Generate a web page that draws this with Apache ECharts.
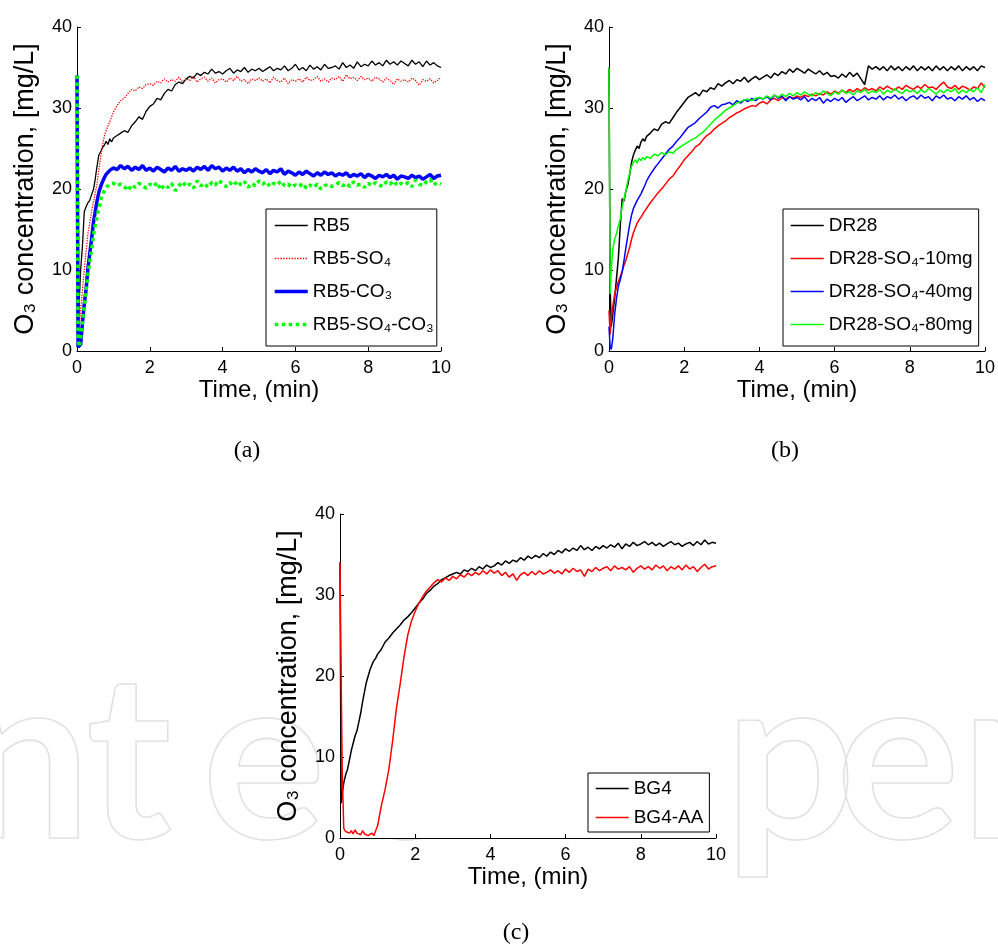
<!DOCTYPE html>
<html><head><meta charset="utf-8">
<script src="https://cdn.jsdelivr.net/npm/echarts@6/dist/echarts.min.js"></script>
<style>html,body{margin:0;padding:0;background:#fff;}#c{width:998px;height:948px;}</style>
</head><body><div id="c"></div>
<script>
// shared time axis (min)
const time = [0,0.03,0.06,0.1,0.15,0.2,0.25,0.3,0.35,0.4,0.45,0.5,0.55,0.6,0.65,0.7,0.75,0.8,0.85,0.9,0.95,1.0,
1.1,1.2,1.3,1.4,1.5,1.6,1.7,1.8,1.9,2.0,
2.1,2.2,2.3,2.4,2.5,2.6,2.7,2.8,2.9,3.0,
3.1,3.2,3.3,3.4,3.5,3.6,3.7,3.8,3.9,4.0,
4.1,4.2,4.3,4.4,4.5,4.6,4.7,4.8,4.9,5.0,
5.1,5.2,5.3,5.4,5.5,5.6,5.7,5.8,5.9,6.0,
6.1,6.2,6.3,6.4,6.5,6.6,6.7,6.8,6.9,7.0,
7.1,7.2,7.3,7.4,7.5,7.6,7.7,7.8,7.9,8.0,
8.1,8.2,8.3,8.4,8.5,8.6,8.7,8.8,8.9,9.0,
9.1,9.2,9.3,9.4,9.5,9.6,9.7,9.8,9.9,10.0];

const xTicks = [0,2,4,6,8,10];
const yTicks = [0,10,20,30,40];
const panelLabels = ['(a)','(b)','(c)'];
const xTitle = 'Time, (min)';
const yTitle = 'O₃ concentration, [mg/L]';

// ---- panel (a)
const namesA = ['RB5','RB5-SO₄','RB5-CO₃','RB5-SO₄-CO₃'];
const rb5 = [34,2,6,10,13,17.2,17.8,18.3,18.6,19.3,19.9,21.2,22.8,24.2,24.6,25.1,25.4,25.9,25.5,26.2,25.8,26.3,
26.6,26.9,27.2,27.0,27.8,28.3,28.9,28.6,29.6,30.2,
30.5,31.2,31.0,31.8,32.3,32.1,32.9,33.2,33.0,33.6,
33.9,33.7,34.3,34.0,34.4,34.2,34.8,34.3,34.5,34.2,
34.6,34.9,34.3,34.7,34.5,35.0,34.4,34.8,34.6,34.9,
34.5,34.8,35.1,34.6,34.9,34.7,35.2,34.6,34.9,35.4,
34.7,35.0,34.6,35.3,34.8,35.1,34.7,35.4,34.9,35.0,
35.2,34.8,35.6,35.0,35.3,34.9,35.7,35.1,35.4,35.2,
35.8,35.3,35.6,35.2,35.9,35.4,35.7,35.3,35.8,35.5,
35.2,35.9,35.4,35.7,35.1,35.8,35.3,35.6,35.2,35.0];
const rb5so4 = [34,1,3,5,7.5,10,12.3,14.5,15.8,17.2,18.3,19.5,20.6,22.4,23.9,25.4,26.5,27.2,27.8,28.3,28.9,29.5,
30.3,30.9,31.2,31.8,32.3,32.1,32.6,32.4,32.9,33.0,
32.8,33.3,33.1,33.6,33.2,33.5,33.3,33.8,33.2,33.6,
33.4,33.9,33.2,33.6,33.8,33.3,33.7,33.1,33.5,33.6,
33.2,33.7,33.4,33.9,33.3,33.5,33.0,33.6,33.4,33.7,
33.3,33.6,33.1,33.8,33.4,33.2,33.7,33.0,33.5,33.3,
33.6,33.2,33.8,33.4,33.5,33.9,33.3,33.6,33.2,33.7,
33.5,33.9,33.3,34.1,33.6,33.8,33.4,33.9,33.5,33.7,
33.3,33.8,33.6,33.2,33.7,33.4,32.9,33.6,33.3,33.5,
33.2,33.7,33.4,32.8,33.5,33.3,33.6,33.1,33.4,33.8];
const rb5co3 = [34,0.5,0.3,0.8,3.5,5.8,7.6,10.2,12.0,13.8,15.8,17.2,18.5,19.6,20.3,20.9,21.4,21.8,22.0,22.3,22.1,22.6,
22.4,22.9,22.5,22.8,22.3,22.7,22.4,22.9,22.3,22.6,
22.2,22.7,22.4,22.1,22.6,22.3,22.8,22.2,22.5,22.3,
22.6,22.2,22.7,22.4,22.8,22.3,22.9,22.5,22.7,22.2,
22.6,22.3,22.7,22.2,22.5,22.0,22.4,22.1,22.5,22.2,
22.0,22.4,21.9,22.3,22.1,22.5,21.8,22.2,22.0,21.7,
22.1,21.8,22.2,21.9,21.6,22.0,21.7,22.1,21.8,22.0,
21.6,21.9,21.7,22.0,21.5,21.8,21.6,21.9,21.4,21.8,
21.6,21.3,21.7,21.5,21.8,21.4,21.7,21.2,21.6,21.5,
21.3,21.7,21.4,21.6,21.2,21.5,21.8,21.3,21.6,21.7];
const rb5so4co3 = [34,1.5,0.5,1.5,3.5,5.5,7.4,9.5,11.0,12.5,14.2,15.5,16.6,17.6,18.6,19.3,19.8,20.2,20.4,20.6,20.5,20.7,
20.4,20.6,20.3,19.8,20.5,20.2,20.7,20.4,20.1,20.6,
20.3,20.8,19.9,20.5,20.2,20.7,19.8,20.4,20.9,20.3,
20.6,20.1,21.0,20.4,20.7,20.2,20.8,20.5,21.1,20.6,
20.3,20.8,20.4,21.0,20.5,20.9,20.2,20.7,20.4,21.0,
20.6,20.9,20.3,20.7,20.5,21.0,20.4,20.6,20.2,20.5,
20.3,20.7,20.1,20.5,20.2,20.6,20.0,20.4,20.6,20.3,
20.5,20.8,20.4,20.7,20.3,20.9,20.5,20.6,20.2,20.7,
20.4,20.8,20.5,20.3,20.9,20.6,21.0,20.4,20.7,20.5,
20.8,20.3,21.1,20.6,20.4,20.9,21.2,20.5,20.8,20.6];

// ---- panel (b)
const namesB = ['DR28','DR28-SO₄-10mg','DR28-SO₄-40mg','DR28-SO₄-80mg'];
const dr28 = [35,8,3,4.5,6.5,9.0,11.5,15.5,18.8,18.5,19.8,20.5,21.8,23.3,24.2,24.8,25.3,25.0,25.8,26.2,25.9,26.5,
26.9,27.4,27.2,28.0,28.3,28.1,28.8,29.5,30.1,30.7,
31.3,31.6,31.9,31.5,32.2,32.0,32.5,32.3,33.0,32.7,
33.1,33.4,33.0,33.5,33.3,33.8,33.2,33.6,33.9,33.5,
33.8,34.1,33.7,34.3,34.0,34.5,34.2,34.8,34.4,34.9,
34.6,34.3,34.8,34.5,34.2,34.6,34.1,34.4,33.9,34.0,
33.7,34.2,33.8,34.4,33.9,34.3,33.6,32.9,35.2,34.8,
35.1,34.7,35.1,34.6,35.2,34.7,35.1,34.6,35.1,34.7,
35.2,34.6,35.1,34.7,35.1,34.6,35.2,34.7,35.1,34.6,
35.1,34.7,35.2,34.6,35.1,34.7,35.1,34.6,35.2,35.0];
const dr28so4_10 = [5,2,4,5.5,7.0,7.8,8.6,9.2,9.8,10.6,11.2,12.0,12.8,13.8,14.6,15.2,15.8,16.2,16.5,16.9,17.3,17.6,
18.3,18.9,19.5,20.0,20.6,21.2,21.6,22.3,22.9,23.6,
24.1,24.6,25.2,25.5,26.1,26.6,26.9,27.4,27.8,28.1,
28.4,28.8,29.1,29.4,29.6,29.9,30.1,30.3,30.2,30.6,
30.8,30.5,31.0,31.2,30.9,31.3,31.1,31.4,31.2,31.5,
31.3,31.6,31.4,31.7,31.5,31.8,31.6,32.0,31.7,32.1,
31.8,32.2,31.9,32.3,32.0,32.4,32.1,32.5,32.2,32.4,
32.1,32.6,32.3,32.7,32.4,32.2,32.6,32.3,32.8,32.5,
32.3,32.7,32.4,32.9,32.5,32.6,32.3,32.8,33.2,32.6,
32.4,32.8,32.3,32.7,32.5,32.2,32.6,32.4,33.1,32.5];
const dr28so4_40 = [3,0.5,0.2,1.5,4.5,6.5,8.0,8.8,9.8,11.2,12.8,14.2,15.6,16.8,17.6,18.1,18.6,19.0,19.4,19.9,20.4,21.0,
21.8,22.5,23.1,23.7,24.3,24.9,25.3,25.9,26.4,27.0,
27.6,27.9,28.2,28.7,29.1,29.5,30.1,30.3,30.0,30.4,
30.5,30.7,30.4,30.9,30.6,31.0,30.8,31.2,30.9,31.3,
31.1,31.4,31.0,31.6,31.2,31.5,30.9,31.4,31.1,31.3,
31.0,31.4,30.8,31.2,30.9,31.3,30.6,31.1,30.8,31.2,
30.9,31.3,30.7,31.1,31.4,30.9,31.2,31.5,31.0,31.3,
31.1,31.5,31.0,31.4,31.2,31.6,31.1,31.4,30.9,31.3,
31.5,31.1,31.6,31.2,31.4,30.9,31.5,31.2,31.6,31.1,
31.3,30.9,31.4,31.1,31.5,31.0,31.3,30.8,31.2,30.9];
const dr28so4_80 = [35,7,10,12.5,13.8,14.5,15.5,16.3,17.8,18.8,19.8,21.0,22.0,22.8,23.3,23.6,23.2,23.8,23.5,23.9,23.6,24.0,
23.8,24.3,24.1,24.5,24.2,24.6,24.4,24.9,25.2,25.5,
25.8,26.1,26.3,26.7,27.0,27.5,28.0,28.5,28.9,29.3,
29.7,30.0,30.3,30.6,30.8,31.0,31.1,30.9,31.2,31.3,
31.1,31.5,31.2,31.6,31.3,31.7,31.4,31.8,31.5,31.9,
31.6,32.0,31.7,31.5,31.9,31.6,32.1,31.8,31.5,32.0,
31.7,32.2,31.8,32.0,31.6,32.1,31.9,32.3,31.8,32.1,
31.9,32.3,31.7,32.2,31.9,32.4,32.0,31.8,32.3,32.0,
32.2,31.8,32.3,31.9,32.4,32.1,31.7,32.2,31.9,32.3,
32.0,32.4,31.8,32.2,31.9,32.3,32.0,32.5,31.9,32.9];

// ---- panel (c)
const namesC = ['BG4','BG4-AA'];
const bg4 = [34,4.3,5.5,6.8,7.8,8.5,9.6,10.8,11.7,12.6,13.2,14.3,15.4,16.8,18.0,19.2,20.0,20.8,21.4,21.9,22.2,22.7,
23.3,24.2,24.7,25.3,25.8,26.3,26.9,27.3,27.8,28.4,
29.0,29.5,30.2,30.6,31.1,31.4,31.9,32.1,32.4,32.6,
32.8,32.6,33.1,32.9,33.3,33.0,33.5,33.2,33.7,33.4,
33.6,34.0,33.7,34.2,33.9,34.3,34.1,34.6,34.3,34.8,
34.5,34.9,34.6,35.1,34.8,35.3,35.0,35.5,35.2,35.7,
35.4,35.8,35.5,36.1,35.6,35.9,35.5,36.0,35.7,36.1,
35.8,36.2,35.9,36.4,35.7,36.3,36.0,36.5,36.1,36.3,
36.6,36.2,36.5,36.1,36.4,36.0,36.3,36.6,36.2,36.4,
36.0,36.3,36.5,36.1,36.6,36.2,36.8,36.3,36.5,36.4];
const bg4aa = [34,20,8,1.2,0.8,1.0,0.6,0.9,0.5,1.0,0.6,0.8,0.4,0.9,0.5,0.7,0.3,0.1,0.6,0.3,0.2,1.5,
4.0,6.0,8.5,12.0,16.0,19.0,22.3,25.0,26.8,28.0,
29.0,29.8,30.5,31.0,31.5,31.9,31.6,32.1,31.8,32.3,
32.0,32.5,32.2,32.7,32.4,32.8,32.5,33.0,32.6,33.1,
32.7,33.0,32.4,32.8,32.2,32.6,31.8,32.5,32.8,32.4,
32.9,32.5,33.0,32.6,32.8,33.1,32.7,33.0,32.6,33.2,
32.8,33.3,32.9,33.1,32.3,33.2,32.9,33.4,33.0,33.3,
33.5,33.0,33.6,33.2,33.4,33.1,33.5,32.8,33.3,33.6,
33.2,33.5,33.1,33.7,33.3,33.6,33.0,33.5,33.2,33.6,
33.1,33.7,33.2,33.5,32.9,33.4,33.8,33.2,33.5,33.6];

// ---------------------------------------------------------------
const FONT = '"Liberation Sans", Arial, Helvetica, "DejaVu Sans", sans-serif';
const pairs = ys => time.map((t, i) => [t, ys[i]]);

const grids = [
  {left: 77, top: 27, width: 364, height: 324},
  {left: 609, top: 27, width: 377, height: 324},
  {left: 340, top: 514, width: 376, height: 324, show: true, backgroundColor: '#fff', borderWidth: 0}
];

function xAxis(i) {
  return {
    gridIndex: i, type: 'value', min: xTicks[0], max: xTicks[xTicks.length - 1], interval: xTicks[1] - xTicks[0],
    axisLine: {onZero: false, lineStyle: {color: '#000', width: 1}},
    axisTick: {inside: true, length: 4, lineStyle: {color: '#000'}},
    axisLabel: {fontSize: 18, color: '#000', margin: 8, fontFamily: FONT},
    splitLine: {show: false},
    name: xTitle, nameLocation: 'middle', nameGap: 25,
    nameTextStyle: {fontSize: 24, color: '#000', fontFamily: FONT}
  };
}
function yAxis(i) {
  return {
    gridIndex: i, type: 'value', min: yTicks[0], max: yTicks[yTicks.length - 1], interval: yTicks[1] - yTicks[0],
    axisLine: {onZero: false, lineStyle: {color: '#000', width: 1}},
    axisTick: {inside: true, length: 4, lineStyle: {color: '#000'}},
    axisLabel: {fontSize: 18, color: '#000', margin: 5, fontFamily: FONT},
    splitLine: {show: false},
    name: yTitle, nameLocation: 'middle', nameGap: 38, nameRotate: 90,
    nameTextStyle: {color: '#000', fontFamily: FONT, fontSize: 27}
  };
}

const legendWidth = {'RB5-CO₃': 3.5, 'RB5-SO₄-CO₃': 3.5};
function legend(names, left, top, padding, gap) {
  return {
    data: names.map(n => ({name: n, lineStyle: {width: legendWidth[n] || 1.4}})),
    left: left, top: top, orient: 'vertical', selectedMode: false,
    itemWidth: 33, itemHeight: 14, itemGap: gap, padding: padding,
    borderColor: '#000', borderWidth: 1, backgroundColor: '#fff',
    itemStyle: {opacity: 0},
    textStyle: {fontSize: 19, fontFamily: FONT, color: '#000'}
  };
}

function line(name, data, idx, color, width, type) {
  return {
    name: name, type: 'line', xAxisIndex: idx, yAxisIndex: idx, data: pairs(data),
    symbol: 'none', showSymbol: false, animation: false,
    lineStyle: {color: color, width: width, type: type || 'solid'},
    itemStyle: {color: color}
  };
}

const wm = {fill: 'none', stroke: '#e2e2e2', lineWidth: 1.6, font: 'bold 231px Lato', align: 'center', verticalAlign: 'middle'};
const wmLetters = [['n', 26], ['t', 129], ['e', 264], ['c', 400], ['p', 790], ['e', 898], ['n', 1026]];
const labelFont = '24px "Liberation Serif", serif';

const option = {
  backgroundColor: '#fff',
  animation: false,
  grid: grids,
  xAxis: [xAxis(0), xAxis(1), xAxis(2)],
  yAxis: [yAxis(0), yAxis(1), yAxis(2)],
  legend: [
    legend(namesA, 266, 209, [7, 3, 12, 7], 14),
    legend(namesB, 783, 209, [7, 6, 12, 7], 14),
    legend(namesC, 588, 773, [6, 6, 5, 7], 10)
  ],
  series: [
    line(namesA[0], rb5, 0, '#000000', 1.3),
    line(namesA[1], rb5so4, 0, '#ff0000', 1.3, 'dotted'),
    line(namesA[2], rb5co3, 0, '#0000ff', 3.5),
    line(namesA[3], rb5so4co3, 0, '#00ff00', 3.5, 'dotted'),
    line(namesB[0], dr28, 1, '#000000', 1.5),
    line(namesB[1], dr28so4_10, 1, '#ff0000', 1.5),
    line(namesB[2], dr28so4_40, 1, '#0000ff', 1.5),
    line(namesB[3], dr28so4_80, 1, '#00ff00', 1.5),
    line(namesC[0], bg4, 2, '#000000', 1.5),
    line(namesC[1], bg4aa, 2, '#ff0000', 1.5)
  ],
  graphic: wmLetters.map(l => ({type: 'text', z: -10, silent: true, x: l[1], y: 763,
      style: Object.assign({}, wm, {text: l[0]})}))
    .concat([
      {type: 'text', x: 247, y: 451, style: {text: panelLabels[0], font: labelFont, fill: '#000', align: 'center', verticalAlign: 'middle'}},
      {type: 'text', x: 785, y: 451, style: {text: panelLabels[1], font: labelFont, fill: '#000', align: 'center', verticalAlign: 'middle'}},
      {type: 'text', x: 516, y: 933, style: {text: panelLabels[2], font: labelFont, fill: '#000', align: 'center', verticalAlign: 'middle'}}
    ])
};

const chart = echarts.init(document.getElementById('c'), null, {renderer: 'canvas'});
chart.setOption(option);
</script>
</body></html>
